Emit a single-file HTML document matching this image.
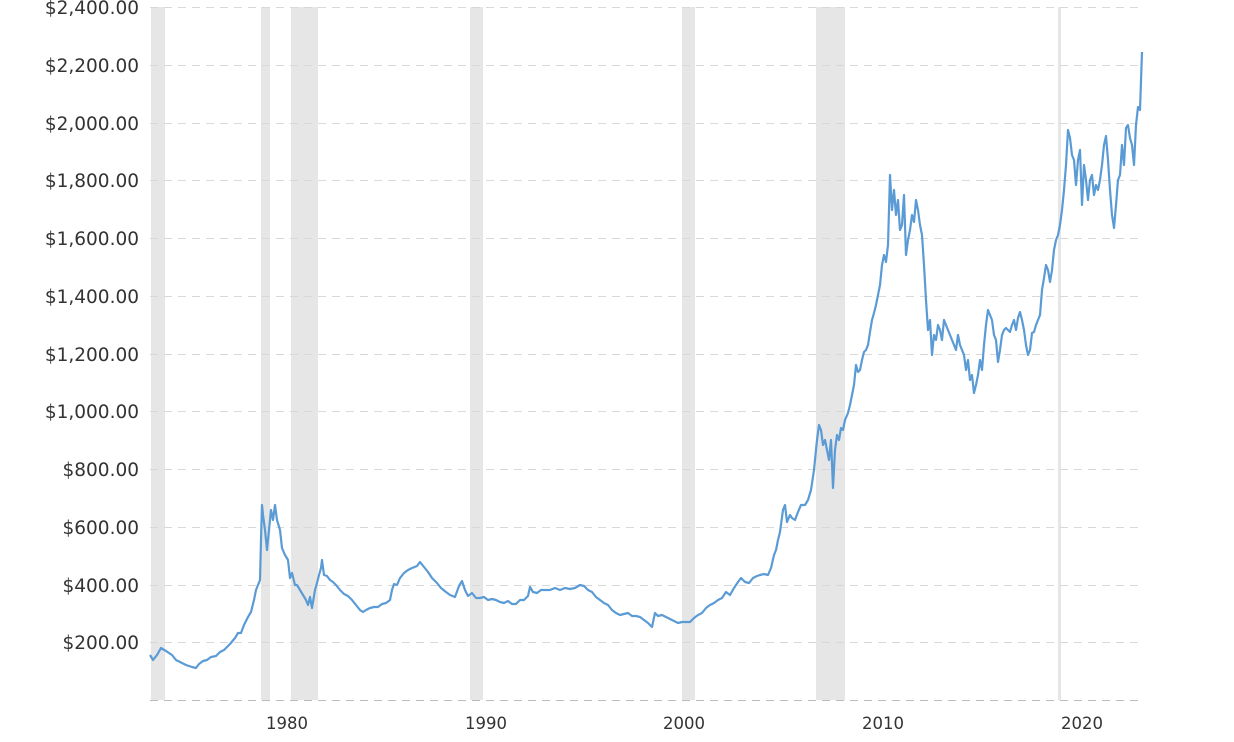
<!DOCTYPE html>
<html><head><meta charset="utf-8"><style>
html,body{margin:0;padding:0;background:#fff;}
svg{display:block;}
text{font-family:"DejaVu Sans","Liberation Sans",sans-serif;fill:#333;}
.y text{font-size:18.5px;}
.x text{font-size:16.5px;}
</style></head><body>
<svg width="1234" height="742" viewBox="0 0 1234 742" xmlns="http://www.w3.org/2000/svg">
<g fill="#e6e6e6">
<rect x="151" y="7" width="14" height="693"/>
<rect x="261" y="7" width="9" height="693"/>
<rect x="291" y="7" width="27" height="693"/>
<rect x="470" y="7" width="13" height="693"/>
<rect x="682" y="7" width="13" height="693"/>
<rect x="816" y="7" width="29" height="693"/>
<rect x="1058" y="7" width="3" height="693"/>
</g>
<g stroke="#d8d8d8" stroke-width="1" stroke-dasharray="8,6">
<line x1="150" x2="1138" y1="7.5" y2="7.5"/>
<line x1="150" x2="1138" y1="65.5" y2="65.5"/>
<line x1="150" x2="1138" y1="123.5" y2="123.5"/>
<line x1="150" x2="1138" y1="180.5" y2="180.5"/>
<line x1="150" x2="1138" y1="238.5" y2="238.5"/>
<line x1="150" x2="1138" y1="296.5" y2="296.5"/>
<line x1="150" x2="1138" y1="354.5" y2="354.5"/>
<line x1="150" x2="1138" y1="411.5" y2="411.5"/>
<line x1="150" x2="1138" y1="469.5" y2="469.5"/>
<line x1="150" x2="1138" y1="527.5" y2="527.5"/>
<line x1="150" x2="1138" y1="585.5" y2="585.5"/>
<line x1="150" x2="1138" y1="642.5" y2="642.5"/>
</g>
<line x1="150" x2="1138" y1="700.5" y2="700.5" stroke="#bbb" stroke-width="1" stroke-dasharray="8,6"/>
<g class="y" text-anchor="end">
<text x="139" y="14">$2,400.00</text>
<text x="139" y="72">$2,200.00</text>
<text x="139" y="130">$2,000.00</text>
<text x="139" y="187">$1,800.00</text>
<text x="139" y="245">$1,600.00</text>
<text x="139" y="303">$1,400.00</text>
<text x="139" y="361">$1,200.00</text>
<text x="139" y="418">$1,000.00</text>
<text x="139" y="476">$800.00</text>
<text x="139" y="534">$600.00</text>
<text x="139" y="592">$400.00</text>
<text x="139" y="649">$200.00</text>
</g>
<g class="x" text-anchor="middle">
<text x="287" y="729">1980</text>
<text x="486" y="729">1990</text>
<text x="684" y="729">2000</text>
<text x="883" y="729">2010</text>
<text x="1082" y="729">2020</text>
</g>
<polyline fill="none" stroke="#5b9bd5" stroke-width="2.2" stroke-linejoin="round" points="150,655 153,660 157,655 161,648 166,651 172,655 176,660 180,662 186,665 192,667 196,668 199,664 203,661 207,660 211,657 216,656 220,652 224,650 230,644 235,638 238,633 241,633 244,625 248,617 251,612 254,600 256,590 258,585 260,580 261,540 262,505 263,515 265,530 267,550 269,530 271,510 273,520 275,505 277,520 280,530 282,548 285,555 288,560 290,578 292,573 295,585 297,585 300,590 303,595 306,600 308,605 310,597 312,608 315,590 317,583 319,575 321,568 322,560 324,575 327,576 330,580 333,582 336,585 340,590 344,594 348,596 352,600 356,605 360,610 363,612 366,610 370,608 374,607 378,607 382,604 386,603 390,600 392,590 394,584 397,585 400,578 404,573 408,570 412,568 417,566 420,562 424,567 428,572 432,578 437,583 441,588 446,592 450,595 455,597 459,586 462,581 465,590 468,596 472,593 476,598 480,598 484,597 488,600 492,599 496,600 500,602 504,603 508,601 512,604 516,604 520,600 524,600 528,596 530,587 533,592 537,593 541,590 545,590 550,590 555,588 560,590 565,588 570,589 575,588 580,585 584,586 588,590 592,592 596,597 600,600 604,603 608,605 612,610 616,613 620,615 624,614 628,613 632,616 636,616 640,617 644,620 648,623 652,627 655,613 658,616 662,615 666,617 670,619 674,621 678,623 682,622 686,622 690,622 694,618 698,615 702,613 706,608 710,605 714,603 718,600 722,598 726,592 730,595 734,588 738,582 741,578 745,582 749,583 753,578 757,576 760,575 764,574 768,575 771,568 774,555 776,550 778,540 780,532 783,510 785,505 787,522 790,515 792,518 795,520 798,512 801,505 805,505 808,500 811,490 814,470 817,440 819,425 821,430 823,445 825,440 827,450 829,460 831,440 833,488 835,450 837,435 839,440 841,428 843,430 845,420 848,413 850,405 852,395 854,385 856,365 858,372 860,370 862,360 864,352 866,350 868,345 870,332 872,320 874,313 876,305 878,295 880,285 882,265 884,255 886,262 888,245 890,175 892,210 894,190 896,215 898,200 900,230 902,225 904,195 906,255 908,240 910,230 912,215 914,222 916,200 918,210 920,225 922,235 924,265 926,300 928,330 930,320 932,355 934,335 936,340 938,325 940,330 942,340 944,320 946,325 948,330 950,335 952,340 954,345 956,350 958,335 960,345 962,350 964,355 966,370 968,360 970,380 972,375 974,393 976,385 978,375 980,360 982,370 984,345 986,325 988,310 990,315 992,320 994,335 996,340 998,362 1000,350 1002,335 1004,330 1006,328 1008,330 1010,332 1012,325 1014,320 1016,330 1018,318 1020,312 1022,320 1024,330 1026,345 1028,355 1030,350 1032,333 1034,332 1036,325 1038,320 1040,315 1042,290 1044,278 1046,265 1048,270 1050,282 1052,270 1054,250 1056,240 1058,235 1060,225 1062,210 1064,190 1066,165 1068,130 1070,138 1072,155 1074,160 1076,185 1078,160 1080,150 1082,205 1084,165 1086,180 1088,200 1090,180 1092,175 1094,195 1096,185 1098,190 1100,180 1102,165 1104,145 1106,136 1108,160 1110,190 1112,215 1114,228 1116,205 1118,180 1120,175 1122,145 1124,165 1126,128 1128,125 1130,138 1132,145 1134,165 1136,125 1138,107 1140,110 1142,52"/>
</svg>
</body></html>
